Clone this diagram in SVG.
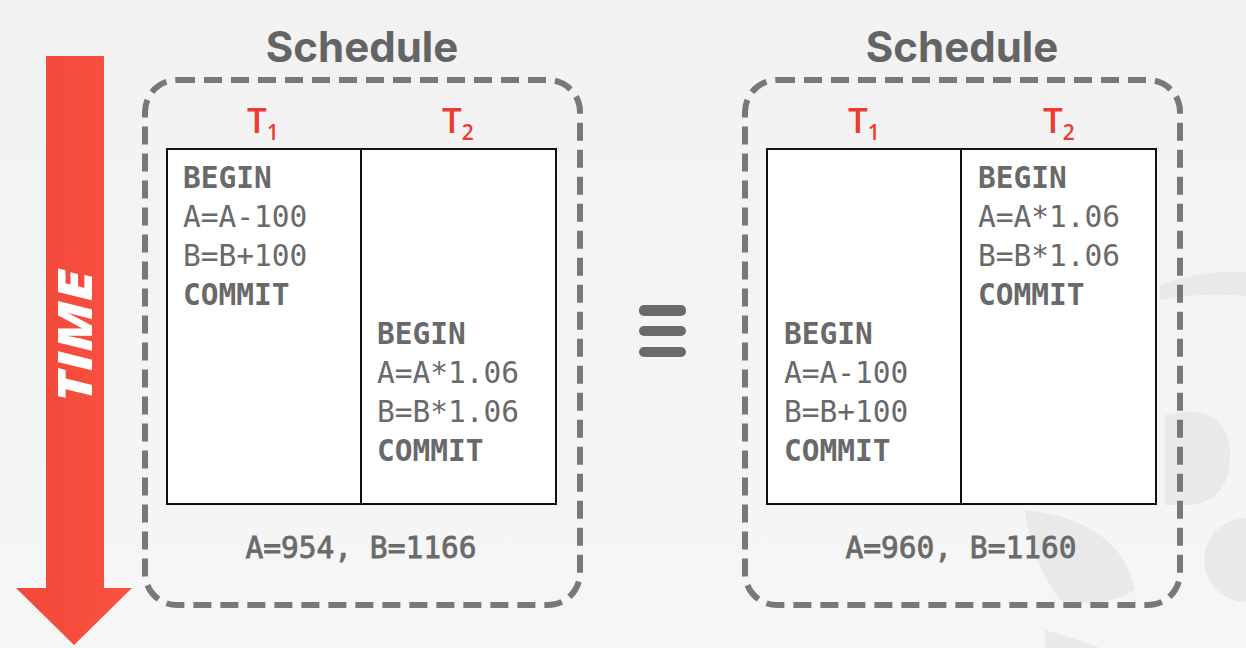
<svg xmlns="http://www.w3.org/2000/svg" width="1246" height="648" viewBox="0 0 1246 648">
<defs>
<linearGradient id="bg" x1="0" y1="0" x2="0" y2="1">
<stop offset="0" stop-color="#f2f2f2"/>
<stop offset="1" stop-color="#f6f6f6"/>
</linearGradient>
<linearGradient id="arr" x1="0" y1="0" x2="1" y2="0">
<stop offset="0" stop-color="#f0493a"/>
<stop offset="1" stop-color="#fa5040"/>
</linearGradient>
<style>
.wm{fill:#e9e9e9}
.box{fill:none;stroke:#787878;stroke-width:6;stroke-dasharray:18 9;stroke-linecap:butt}
.tbl{fill:#ffffff;stroke:#111;stroke-width:2}
.div{stroke:#111;stroke-width:2}
.title{font-family:Inter,"Open Sans","Liberation Sans",sans-serif;font-weight:700;font-size:42px;fill:#646464;text-anchor:middle}
.tx{font-family:"Open Sans","Liberation Sans",sans-serif;font-weight:600;font-size:35px;fill:#ee3a32}
.sub{font-size:21px}
.code{font-family:"DejaVu Sans Mono","Liberation Mono",monospace;font-size:29.5px;fill:#696969}
.b{font-weight:700}
.res{font-family:"DejaVu Sans Mono","Liberation Mono",monospace;font-size:29.5px;fill:#6a6a6a;stroke:#6a6a6a;stroke-width:0.8;text-anchor:middle}
.eq{fill:#6a6a6a}
</style>
</defs>
<rect width="1246" height="648" fill="url(#bg)"/>
<g id="watermark">
<path class="wm" d="M1160,285 Q1200,270 1246,272 V296 Q1200,292 1160,300 Z"/>
<path class="wm" d="M1165,415 Q1225,400 1230,450 Q1232,500 1190,505 L1165,505 Z"/>
<path class="wm" d="M1025,510 Q1120,520 1135,590 Q1100,610 1060,600 Q1030,560 1025,510 Z"/>
<circle class="wm" cx="1246" cy="560" r="42"/>
<path class="wm" d="M1045,630 Q1080,640 1100,648 H1045 Z"/>
</g>
<g id="time-arrow">
<path d="M46,56 H104 V588 H132 L74,645 L16,588 H46 Z" fill="url(#arr)"/>
<text transform="translate(92,336) rotate(-90)" text-anchor="middle" font-family="'Open Sans','Liberation Sans',sans-serif" font-weight="800" font-style="italic" font-size="47" fill="#ffffff" textLength="132" lengthAdjust="spacingAndGlyphs">TIME</text>
</g>
<g id="schedule-1">
<text class="title" x="362" y="62">Schedule</text>
<rect class="box" x="145" y="80" width="435" height="525" rx="32"/>
<text class="tx" x="247" y="133">T<tspan class="sub" dy="7">1</tspan></text>
<text class="tx" x="442" y="133">T<tspan class="sub" dy="7">2</tspan></text>
<rect class="tbl" x="167" y="149" width="389" height="355"/>
<line class="div" x1="361" y1="149" x2="361" y2="504"/>
<text class="code b" x="183" y="188">BEGIN</text>
<text class="code" x="183" y="227">A=A-100</text>
<text class="code" x="183" y="266">B=B+100</text>
<text class="code b" x="183" y="305">COMMIT</text>
<text class="code b" x="377" y="344">BEGIN</text>
<text class="code" x="377" y="383">A=A*1.06</text>
<text class="code" x="377" y="422">B=B*1.06</text>
<text class="code b" x="377" y="461">COMMIT</text>
<text class="res" x="361" y="558">A=954, B=1166</text>
</g>
<g id="equiv">
<rect class="eq" x="639" y="305" width="47" height="11" rx="5"/>
<rect class="eq" x="639" y="326" width="47" height="10" rx="5"/>
<rect class="eq" x="639" y="347" width="47" height="10" rx="5"/>
</g>
<g id="schedule-2">
<text class="title" x="962" y="62">Schedule</text>
<rect class="box" x="745" y="80" width="435" height="525" rx="32"/>
<text class="tx" x="848" y="133">T<tspan class="sub" dy="7">1</tspan></text>
<text class="tx" x="1043" y="133">T<tspan class="sub" dy="7">2</tspan></text>
<rect class="tbl" x="767" y="149" width="389" height="355"/>
<line class="div" x1="961" y1="149" x2="961" y2="504"/>
<text class="code b" x="978" y="188">BEGIN</text>
<text class="code" x="978" y="227">A=A*1.06</text>
<text class="code" x="978" y="266">B=B*1.06</text>
<text class="code b" x="978" y="305">COMMIT</text>
<text class="code b" x="784" y="344">BEGIN</text>
<text class="code" x="784" y="383">A=A-100</text>
<text class="code" x="784" y="422">B=B+100</text>
<text class="code b" x="784" y="461">COMMIT</text>
<text class="res" x="961" y="558">A=960, B=1160</text>
</g>
<g id="connectors"/>
</svg>
